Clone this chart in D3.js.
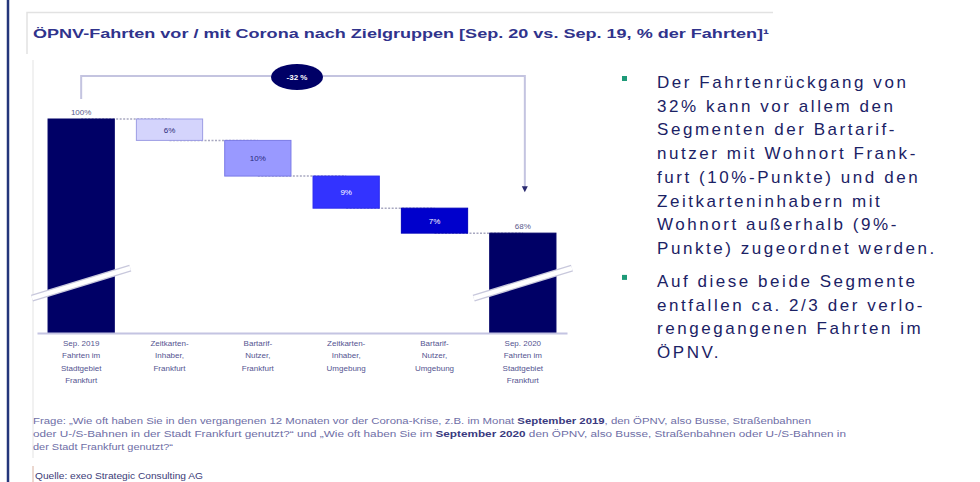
<!DOCTYPE html>
<html>
<head>
<meta charset="utf-8">
<script src="https://cdn.jsdelivr.net/npm/d3@7"></script>
<style>
  body { margin: 0; background: #fff; }
  svg { display: block; font-family: Arial, "Liberation Sans", sans-serif; }
</style>
</head>
<body>
<svg id="chart" width="980" height="482"></svg>
<script>
// data
const categories = [
    ['Sep. 2019', 'Fahrten im', 'Stadtgebiet', 'Frankfurt'],
    ['Zeitkarten-', 'Inhaber,', 'Frankfurt'],
    ['Bartarif-', 'Nutzer,', 'Frankfurt'],
    ['Zeitkarten-', 'Inhaber,', 'Umgebung'],
    ['Bartarif-', 'Nutzer,', 'Umgebung'],
    ['Sep. 2020', 'Fahrten im', 'Stadtgebiet', 'Frankfurt']
];
const values = [100, -6, -10, -9, -7, 68];
const isTotal = [true, false, false, false, false, true];
const valueLabels = ['100%', '6%', '10%', '9%', '7%', '68%'];
const totalChange = '-32 %';

const barColors = ['#000066', '#d4d4fc', '#9999ff', '#3333ff', '#0000cc', '#000066'];
const barStrokes = ['#000066', '#9c9ce4', '#7a7ae6', '#2a2aee', '#0000bb', '#000066'];
const labelColors = ['#5a5a8c', '#2a2a7a', '#2a2a7a', '#ffffff', '#ffffff', '#5a5a8c'];

const title = 'ÖPNV-Fahrten vor / mit Corona nach Zielgruppen [Sep. 20 vs. Sep. 19, % der Fahrten]¹';

const bullets = [
    ['Der Fahrtenrückgang von', '32% kann vor allem den', 'Segmenten der Bartarif-',
     'nutzer mit Wohnort Frank-', 'furt (10%-Punkte) und den', 'Zeitkarteninhabern mit',
     'Wohnort außerhalb (9%-', 'Punkte) zugeordnet werden.'],
    ['Auf diese beide Segmente', 'entfallen ca. 2/3 der verlo-', 'rengegangenen Fahrten im', 'ÖPNV.']
];

const footnote = [
    [['Frage: „Wie oft haben Sie in den vergangenen 12 Monaten vor der Corona-Krise, z.B. im Monat ', false], ['September 2019', true], [', den ÖPNV, also Busse, Straßenbahnen', false]],
    [['oder U-/S-Bahnen in der Stadt Frankfurt genutzt?“ und „Wie oft haben Sie im ', false], ['September 2020', true], [' den ÖPNV, also Busse, Straßenbahnen oder U-/S-Bahnen in', false]],
    [['der Stadt Frankfurt genutzt?“', false]]
];
const source = 'Quelle: exeo Strategic Consulting AG';

function draw() {
    const svg = d3.select('#chart');

    // page frame lines
    svg.append('line').attr('x1', 8).attr('x2', 8).attr('y1', 0).attr('y2', 482)
        .attr('stroke', '#24357a').attr('stroke-width', 2.5);
    svg.append('path').attr('d', 'M27,54 V12.5 H773')
        .attr('fill', 'none').attr('stroke', '#e2e2e2').attr('stroke-width', 1.5);
    svg.append('line').attr('x1', 33).attr('x2', 33).attr('y1', 60).attr('y2', 458)
        .attr('stroke', '#ececec').attr('stroke-width', 1.5);

    // title
    svg.append('text')
        .attr('x', 33).attr('y', 38)
        .attr('textLength', 736).attr('lengthAdjust', 'spacingAndGlyphs')
        .style('font-size', '13.5px').style('font-weight', 'bold')
        .attr('fill', '#30338c')
        .text(title);

    // scales
    const x = d3.scaleBand()
        .domain(d3.range(categories.length))
        .range([37, 567])
        .paddingInner(0.25)
        .paddingOuter(0.125);
    const y = d3.scaleLinear()
        .domain([40, 100])
        .range([333, 119]);

    // waterfall start/end
    let running = 0;
    const bars = values.map((v, i) => {
        let lo, hi;
        if (isTotal[i]) {
            lo = y.domain()[0]; hi = v; running = v;
        } else {
            hi = running; lo = running + v; running = lo;
        }
        return { i, lo, hi };
    });

    // dotted connectors
    svg.selectAll('.conn')
        .data(bars.slice(0, -1))
        .enter().append('line')
        .attr('class', 'conn')
        .attr('x1', d => x(d.i) + x.bandwidth() / 2)
        .attr('x2', d => x(d.i + 1) + x.bandwidth() / 2)
        .attr('y1', d => y(isTotal[d.i] ? d.hi : d.lo))
        .attr('y2', d => y(isTotal[d.i] ? d.hi : d.lo))
        .attr('stroke', '#a8a8c0').attr('stroke-width', 1.5)
        .attr('stroke-dasharray', '2,1.5');

    // bars
    svg.selectAll('.bar')
        .data(bars)
        .enter().append('rect')
        .attr('class', 'bar')
        .attr('x', d => x(d.i))
        .attr('width', x.bandwidth())
        .attr('y', d => y(d.hi))
        .attr('height', d => y(d.lo) - y(d.hi))
        .attr('fill', d => barColors[d.i])
        .attr('stroke', d => barStrokes[d.i])
        .attr('stroke-width', 1);

    // labels inside delta bars
    svg.selectAll('.inlabel')
        .data(bars.filter(d => !isTotal[d.i]))
        .enter().append('text')
        .attr('class', 'inlabel')
        .attr('x', d => x(d.i) + x.bandwidth() / 2)
        .attr('y', d => (y(d.hi) + y(d.lo)) / 2 + 3)
        .attr('text-anchor', 'middle')
        .style('font-size', '8px')
        .attr('fill', d => labelColors[d.i])
        .text(d => valueLabels[d.i]);

    // labels above total bars
    svg.selectAll('.toplabel')
        .data(bars.filter(d => isTotal[d.i]))
        .enter().append('text')
        .attr('class', 'toplabel')
        .attr('x', d => x(d.i) + x.bandwidth() / 2)
        .attr('y', d => y(d.hi) - 4)
        .attr('text-anchor', 'middle')
        .style('font-size', '8px')
        .attr('fill', d => labelColors[d.i])
        .text(d => valueLabels[d.i]);

    // axis break marks on the total bars
    const breakY = y(54);
    bars.filter(d => isTotal[d.i]).forEach(d => {
        const x0 = x(d.i) - 16, x1 = x(d.i) + x.bandwidth() + 16;
        const seg = `M${x0},${breakY + 15} L${x1},${breakY - 15}`;
        svg.append('path').attr('d', seg).attr('stroke', '#c8c8dc').attr('stroke-width', 7);
        svg.append('path').attr('d', seg).attr('stroke', '#ffffff').attr('stroke-width', 4.5);
    });

    // x axis
    const xAxis = svg.append('g')
        .attr('transform', `translate(0, ${y.range()[0]})`)
        .call(d3.axisBottom(x).tickSize(0).tickFormat(''));
    xAxis.select('.domain').attr('stroke', '#c4c4e2').attr('stroke-width', 2);

    categories.forEach((lines, i) => {
        const t = svg.append('text')
            .attr('text-anchor', 'middle')
            .style('font-size', '8px')
            .attr('fill', '#545490');
        lines.forEach((l, j) => {
            t.append('tspan')
                .attr('x', x(i) + x.bandwidth() / 2)
                .attr('y', 346 + j * 12.3)
                .text(l);
        });
    });

    // bracket showing the total change
    const cx0 = x(0) + x.bandwidth() / 2;
    const cx1 = x(5) + x.bandwidth() / 2 + 2;
    svg.append('path')
        .attr('d', `M${cx0},${y(100) - 20} V76 H${cx1} V${y(68) - 46}`)
        .attr('fill', 'none').attr('stroke', '#c4c4e0').attr('stroke-width', 2);
    svg.append('path')
        .attr('d', `M${cx1 - 3},${y(68) - 47} L${cx1 + 3},${y(68) - 47} L${cx1},${y(68) - 41} Z`)
        .attr('fill', '#2a2a70');
    svg.append('ellipse')
        .attr('cx', 297).attr('cy', 77).attr('rx', 26).attr('ry', 13)
        .attr('fill', '#000066');
    svg.append('text')
        .attr('x', 297).attr('y', 80)
        .attr('text-anchor', 'middle')
        .style('font-size', '8px').style('font-weight', 'bold')
        .attr('fill', '#ffffff')
        .text(totalChange);

    // bullet text on the right
    let baseY = 88;
    bullets.forEach(par => {
        svg.append('rect')
            .attr('x', 622).attr('y', baseY - 12)
            .attr('width', 5).attr('height', 5)
            .attr('fill', '#1e9a78');
        par.forEach((line, j) => {
            svg.append('text')
                .attr('x', 657).attr('y', baseY + j * 23.7)
                .style('font-size', '17px')
                .style('letter-spacing', '2.55px')
                .attr('fill', '#1b2265')
                .text(line);
        });
        baseY += (par.length - 1) * 23.7 + 33;
    });

    // footnote
    const fnWidths = [778, 813, 140];
    footnote.forEach((parts, k) => {
        const t = svg.append('text')
            .attr('x', 33).attr('y', 424 + k * 13)
            .attr('textLength', fnWidths[k]).attr('lengthAdjust', 'spacingAndGlyphs')
            .style('font-size', '8.5px')
            .attr('fill', '#6e6ea6');
        parts.forEach(p => {
            t.append('tspan')
                .style('font-weight', p[1] ? 'bold' : 'normal')
                .attr('fill', p[1] ? '#3a3a80' : '#6e6ea6')
                .text(p[0]);
        });
    });

    svg.append('line').attr('x1', 33).attr('x2', 33).attr('y1', 466).attr('y2', 482)
        .attr('stroke', '#d8b0a0').attr('stroke-width', 1);
    svg.append('text')
        .attr('x', 35).attr('y', 479)
        .attr('textLength', 168).attr('lengthAdjust', 'spacingAndGlyphs')
        .style('font-size', '9px')
        .attr('fill', '#3c3c78')
        .text(source);
}

window.addEventListener('load', draw);
</script>
</body>
</html>
